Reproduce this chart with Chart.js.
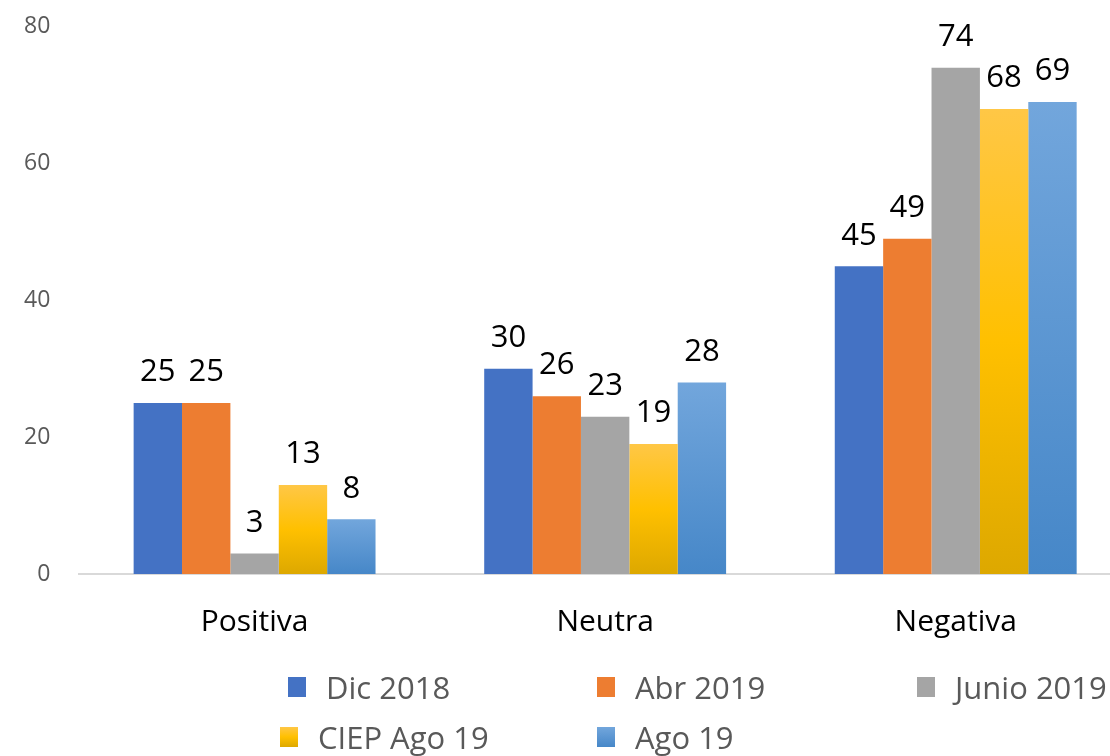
<!DOCTYPE html>
<html>
<head>
<meta charset="utf-8">
<script src="https://cdn.jsdelivr.net/npm/chart.js@4/dist/chart.umd.min.js"></script>
<style>
    html, body { margin: 0; padding: 0; background: #fff; }
    #wrap { position: relative; width: 1110px; height: 756px; overflow: hidden; }
    #box { position: absolute; left: 0; top: -16px; width: 1131px; height: 700px; }
    #legend {
        position: absolute; left: 288px; top: 663px;
        display: grid; grid-template-columns: 309px 320px 220px;
        row-gap: 2px;
        font-family: "Open Sans", sans-serif; font-size: 31px; color: #595959;
    }
    #legend .item { display: flex; align-items: center; height: 48px; white-space: nowrap; }
    #legend .item:nth-child(4) { margin-left: -8px; }
    #legend .sw { width: 18px; height: 20px; margin-right: 20px; }
</style>
</head>
<body>
<div id="wrap">
    <div id="box"><canvas id="chart"></canvas></div>
    <div id="legend"></div>
</div>
<script>
var categories = ["Positiva", "Neutra", "Negativa"];
var seriesNames = ["Dic 2018", "Abr 2019", "Junio 2019", "CIEP Ago 19", "Ago 19"];
var dic2018 = [25, 30, 45];
var abr2019 = [25, 26, 49];
var junio2019 = [3, 23, 74];
var ciepAgo19 = [13, 19, 68];
var ago19 = [8, 28, 69];
var yTicks = [0, 20, 40, 60, 80];

// vertical gradient per bar, top light -> bottom dark
function barGradient(stops, legendCol) {
    return function (ctx) {
        var chart = ctx.chart;
        var y = chart.scales && chart.scales.y;
        if (!ctx.parsed || !y || !isFinite(y.getPixelForValue(0))) return legendCol;
        var top = y.getPixelForValue(ctx.parsed.y);
        var base = y.getPixelForValue(0);
        if (!isFinite(top) || top === base) return legendCol;
        var g = chart.ctx.createLinearGradient(0, top, 0, base);
        stops.forEach(function (s) { g.addColorStop(s[0], s[1]); });
        return g;
    };
}

var yellowStops = [[0, "#FFC746"], [0.5, "#FFC000"], [1, "#DDA800"]];
var blueStops = [[0, "#72A6DC"], [1, "#4687C8"]];

var valueLabels = {
    id: "valueLabels",
    afterDatasetsDraw: function (chart) {
        var c = chart.ctx;
        c.save();
        c.font = "31px 'Open Sans', sans-serif";
        c.fillStyle = "#000";
        c.textAlign = "center";
        c.textBaseline = "bottom";
        chart.data.datasets.forEach(function (ds, i) {
            chart.getDatasetMeta(i).data.forEach(function (bar, j) {
                c.fillText(String(ds.data[j]), bar.x, bar.y - 15);
            });
        });
        c.restore();
    }
};

var ctx = document.getElementById("chart").getContext("2d");
var chart = new Chart(ctx, {
    type: "bar",
    data: {
        labels: categories,
        datasets: [
            { label: seriesNames[0], data: dic2018, backgroundColor: "#4472C4", legendColor: "#4472C4" },
            { label: seriesNames[1], data: abr2019, backgroundColor: "#ED7D31", legendColor: "#ED7D31" },
            { label: seriesNames[2], data: junio2019, backgroundColor: "#A5A5A5", legendColor: "#A5A5A5" },
            { label: seriesNames[3], data: ciepAgo19, backgroundColor: barGradient(yellowStops, "#FFC000"), legendColor: "#FFC000", legendGrad: yellowStops },
            { label: seriesNames[4], data: ago19, backgroundColor: barGradient(blueStops, "#5B9BD5"), legendColor: "#5B9BD5", legendGrad: blueStops }
        ]
    },
    options: {
        responsive: true,
        maintainAspectRatio: false,
        animation: false,
        layout: { padding: { left: -5, right: 0, top: 0, bottom: 14 } },
        datasets: { bar: { categoryPercentage: 0.69, barPercentage: 1.0 } },
        plugins: {
            legend: { display: false },
            tooltip: { enabled: false }
        },
        scales: {
            x: {
                grid: { display: false, drawTicks: false },
                border: { display: true, color: "#D9D9D9", width: 2 },
                ticks: { color: "#000", padding: 30, font: { family: "Open Sans", size: 30 } }
            },
            y: {
                min: 0, max: 80,
                afterBuildTicks: function (axis) { axis.ticks = yTicks.map(function (v) { return { value: v }; }); },
                grid: { display: false, drawTicks: false },
                border: { display: false },
                ticks: { color: "#595959", padding: 29, font: { family: "Open Sans", size: 23 } }
            }
        }
    },
    plugins: [valueLabels]
});

// legend grid built from the chart datasets
var legendEl = document.getElementById("legend");
chart.data.datasets.forEach(function (ds) {
    var item = document.createElement("div");
    item.className = "item";
    var sw = document.createElement("span");
    sw.className = "sw";
    if (ds.legendGrad) {
        sw.style.background = "linear-gradient(" + ds.legendGrad.map(function (s) { return s[1] + " " + (s[0] * 100) + "%"; }).join(", ") + ")";
    } else {
        sw.style.background = ds.legendColor;
    }
    var txt = document.createElement("span");
    txt.textContent = ds.label;
    item.appendChild(sw);
    item.appendChild(txt);
    legendEl.appendChild(item);
});
</script>
</body>
</html>
